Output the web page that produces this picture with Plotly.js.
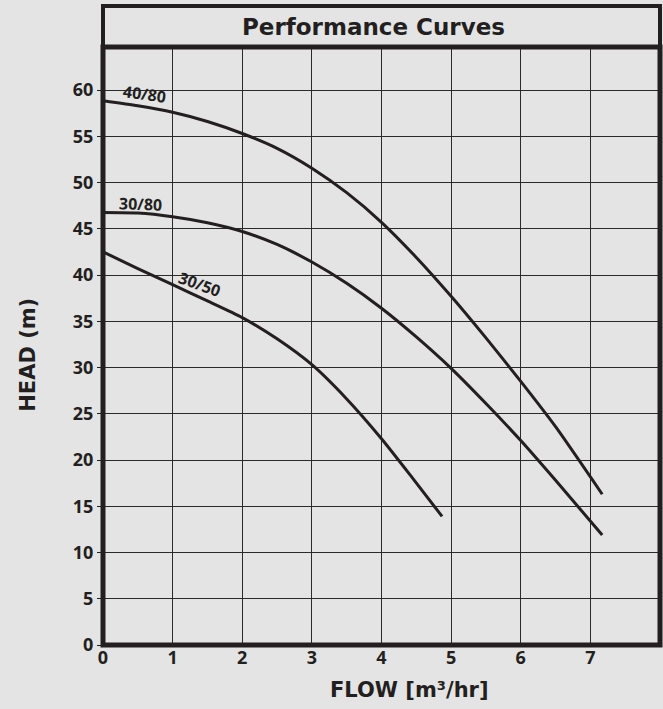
<!DOCTYPE html>
<html><head><meta charset="utf-8">
<script src="https://cdn.plot.ly/plotly-3.0.1.min.js"></script>
<style>html,body{margin:0;padding:0;background:#e4e4e4;}</style>
</head><body>
<div id="chart" style="width:663px;height:709px;"></div>
<script>
const flow = [0, 0.5, 1, 1.5, 2, 2.5, 3, 3.5, 4, 4.5, 5, 5.5, 6, 6.5, 7.17];
const head4080 = [58.84, 58.3, 57.6, 56.6, 55.3, 53.7, 51.55, 48.9, 45.7, 41.9, 37.7, 33.2, 28.5, 23.6, 16.3];
const head3080 = [46.76, 46.7, 46.3, 45.65, 44.7, 43.3, 41.4, 39.1, 36.4, 33.3, 29.9, 26.1, 22.1, 17.8, 11.9];
const flow3050 = [0, 0.5, 1, 1.5, 2, 2.5, 3, 3.5, 4, 4.43, 4.87];
const head3050 = [42.5, 40.7, 38.95, 37.2, 35.4, 33.1, 30.3, 26.6, 22.3, 18.2, 13.9];
const seriesNames = ['40/80', '30/80', '30/50'];
const xTicks = [0,1,2,3,4,5,6,7];
const yTicks = [0,5,10,15,20,25,30,35,40,45,50,55,60];

const ink = '#231f20';
const lineStyle = {color: ink, width: 3, shape: 'spline', smoothing: 0.6};
const traces = [
  {x: flow, y: head4080, name: seriesNames[0], mode: 'lines', line: lineStyle},
  {x: flow, y: head3080, name: seriesNames[1], mode: 'lines', line: lineStyle},
  {x: flow3050, y: head3050, name: seriesNames[2], mode: 'lines', line: lineStyle}
];
const lblFont = {family: 'Open Sans', size: 16, color: ink, weight: 700};
const heavy = {family: 'DejaVu Sans', color: ink, weight: 900};
const tickFont = {family: 'Open Sans', size: 18, color: ink, weight: 700};
const layout = {
  width: 663, height: 709,
  margin: {l: 103, r: 3, t: 47, b: 64},
  paper_bgcolor: '#e4e4e4', plot_bgcolor: '#e4e4e4',
  showlegend: false,
  xaxis: {range: [0, 8], tickvals: xTicks, ticktext: xTicks.map(String),
    showgrid: true, gridcolor: '#2a2a2a', gridwidth: 1, zeroline: false,
    showline: false, ticks: '', tickfont: tickFont},
  yaxis: {range: [0, 64.65], tickvals: yTicks, ticktext: yTicks.map(String),
    showgrid: true, gridcolor: '#2a2a2a', gridwidth: 1, zeroline: false,
    showline: false, ticks: 'outside', ticklen: 5, tickcolor: ink, tickwidth: 1,
    tickfont: tickFont},
  shapes: [
    {type: 'rect', xref: 'paper', yref: 'paper', x0: 0, x1: 1, y0: 0, y1: 1, line: {color: ink, width: 5}},
    {type: 'rect', xref: 'paper', yref: 'paper', x0: 0, x1: 1, y0: 1, y1: 1.0686, line: {color: ink, width: 4}}
  ],
  annotations: [
    {text: 'Performance Curves', xref: 'paper', yref: 'paper', x: 0.485, y: 1.034, yanchor: 'middle', xanchor: 'center', showarrow: false,
      font: Object.assign({size: 23}, heavy)},
    {text: 'HEAD (m)', xref: 'paper', yref: 'paper', x: -0.135, xanchor: 'center', y: 0.485, yanchor: 'middle', textangle: -90, showarrow: false,
      font: Object.assign({size: 21}, heavy)},
    {text: 'FLOW [m³/hr]', xref: 'paper', yref: 'paper', x: 0.55, xanchor: 'center', y: -0.075, yanchor: 'middle', showarrow: false,
      font: Object.assign({size: 21}, heavy)},
    {text: seriesNames[0], x: 0.6, y: 59.6, textangle: 8, showarrow: false, font: lblFont},
    {text: seriesNames[1], x: 0.54, y: 47.7, textangle: 2, showarrow: false, font: lblFont},
    {text: seriesNames[2], x: 1.38, y: 39.0, textangle: 20, showarrow: false, font: lblFont}
  ]
};
Plotly.newPlot('chart', traces, layout, {displayModeBar: false, staticPlot: true});
</script>
</body></html>
